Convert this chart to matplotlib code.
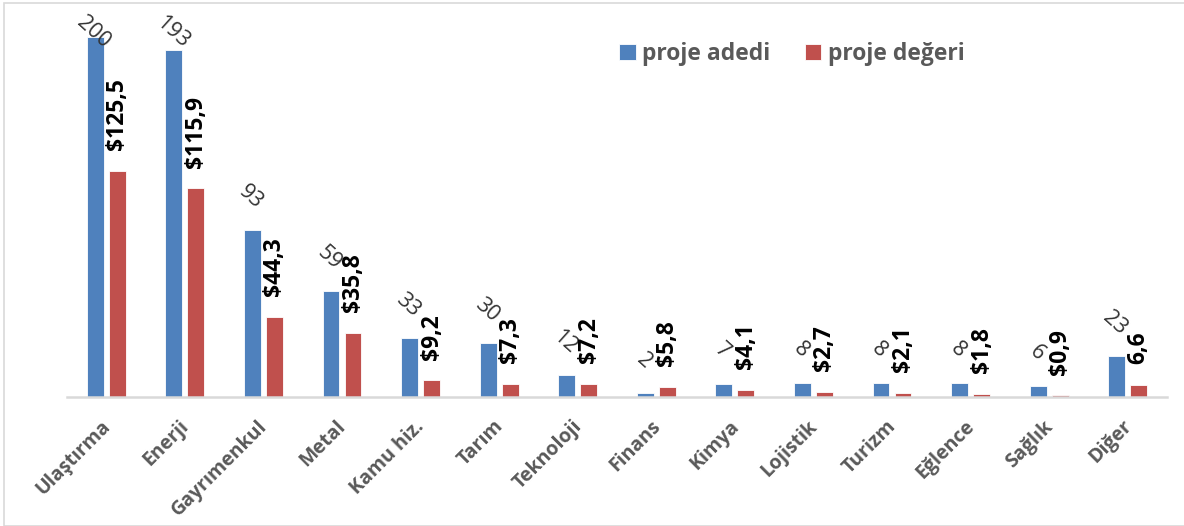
import numpy as np
import matplotlib.pyplot as plt
import matplotlib.transforms as mtransforms
from matplotlib.patches import Rectangle

categories = ["Ulaştırma", "Enerji", "Gayrımenkul", "Metal", "Kamu hiz.", "Tarım",
              "Teknoloji", "Finans", "Kimya", "Lojistik", "Turizm", "Eğlence",
              "Sağlık", "Diğer"]
proje_adedi = [200, 193, 93, 59, 33, 30, 12, 2, 7, 8, 8, 8, 6, 23]
proje_degeri = [125.5, 115.9, 44.3, 35.8, 9.2, 7.3, 7.2, 5.8, 4.1, 2.7, 2.1, 1.8, 0.9, 6.6]
deger_labels = ["$125,5", "$115,9", "$44,3", "$35,8", "$9,2", "$7,3", "$7,2",
                "$5,8", "$4,1", "$2,7", "$2,1", "$1,8", "$0,9", "6,6"]

blue = "#4F81BD"
red = "#C0504D"
plt.rcParams['font.family'] = ['Open Sans', 'DejaVu Sans']

fig = plt.figure(figsize=(11.84, 5.26), dpi=100, facecolor="white")
ax = fig.add_axes([67 / 1184, 1 - 397 / 526, 1100 / 1184, 394 / 526])

x = np.arange(len(categories))
bar_width = 0.216
off = 0.14
b1 = ax.bar(x - off, proje_adedi, width=bar_width, color=blue, edgecolor="white",
            linewidth=0.6, label="proje adedi")
b2 = ax.bar(x + off, proje_degeri, width=bar_width, color=red, edgecolor="white",
            linewidth=0.6, label="proje değeri")

ax.set_xlim(-0.5, len(categories) - 0.5)
ax.set_ylim(0, 219)

# labels for number of projects (clamped so they stay inside the plot)
for xi, v in zip(x, proje_adedi):
    ly = min(v + 18.3, 202.8)
    ax.text(xi - off - 0.02, ly, "%d" % v, rotation=-42, rotation_mode="anchor",
            ha="center", va="center", fontsize=15.5, color="#333333")

# labels for project value
for xi, v, lab in zip(x, proje_degeri, deger_labels):
    ax.annotate(lab, (xi + off, v), xytext=(0, 15), textcoords="offset points",
                rotation=90, ha="center", va="bottom", fontsize=16.5,
                fontweight="bold", color="black")

ax.set_xticks(x)
ax.set_xticklabels(categories, rotation=45, ha="right", rotation_mode="anchor",
                   fontsize=14, fontweight="bold", color="#595959")
ax.tick_params(axis="x", length=0, pad=14)
shift = mtransforms.ScaledTranslation(-6 / 100, 0, fig.dpi_scale_trans)
for t in ax.get_xticklabels():
    t.set_transform(t.get_transform() + shift)
ax.set_yticks([])
for s in ["top", "right", "left"]:
    ax.spines[s].set_visible(False)
ax.spines["bottom"].set_color("#D9D9D9")
ax.spines["bottom"].set_linewidth(1.8)

leg = ax.legend(loc="center", bbox_to_anchor=(0.669, 0.897), bbox_transform=fig.transFigure,
                ncol=2, frameon=False, handlelength=0.7, handleheight=0.7,
                handletextpad=0.3, columnspacing=1.5,
                prop={"size": 16.5, "weight": "bold"})
for t in leg.get_texts():
    t.set_color("#595959")

fig.patches.append(Rectangle((4 / 1184, 0), 1, 1 - 3 / 526, transform=fig.transFigure,
                             fill=False, edgecolor="#D9D9D9", linewidth=1.2))

fig.savefig("out.png", dpi=100, facecolor="white")
